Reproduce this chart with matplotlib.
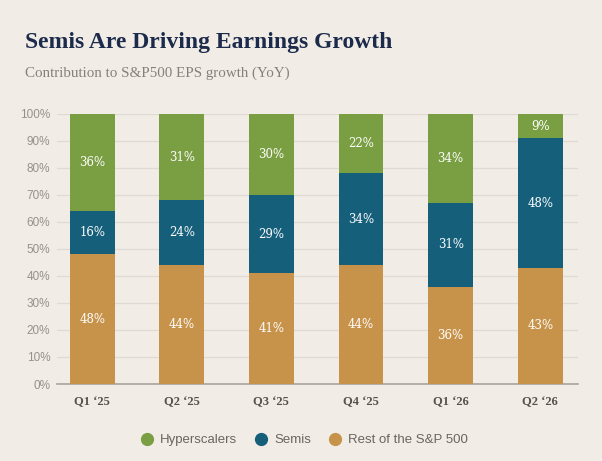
import matplotlib.pyplot as plt
import numpy as np
from matplotlib.lines import Line2D

# Contribution to S&P500 EPS growth (YoY), in percent
quarters = ['Q1 \u201825', 'Q2 \u201825', 'Q3 \u201825', 'Q4 \u201825', 'Q1 \u201826', 'Q2 \u201826']
rest_of_sp = [48, 44, 41, 44, 36, 43]
semis = [16, 24, 29, 34, 31, 48]
hyperscalers = [36, 31, 30, 22, 34, 9]

bg = '#F1EDE6'
c_green = '#7A9E42'
c_blue = '#165F7B'
c_orange = '#C7924A'

fig = plt.figure(figsize=(6.02, 4.61), dpi=100, facecolor=bg)
ax = fig.add_axes([0.095, 0.167, 0.865, 0.586], facecolor=bg)

x = np.arange(len(quarters))
w = 0.5
rest = np.array(rest_of_sp)
sem = np.array(semis)
# hyperscaler bar fills the rest of the column up to 100%
hyp_h = 100 - rest - sem

ax.bar(x, rest, w, color=c_orange, zorder=3)
ax.bar(x, sem, w, bottom=rest, color=c_blue, zorder=3)
ax.bar(x, hyp_h, w, bottom=rest + sem, color=c_green, zorder=3)

lab_kw = dict(ha='center', va='center', color='white', fontsize=8.5,
              family='DejaVu Serif', zorder=4)
for i in range(len(x)):
    ax.text(x[i], rest[i] / 2, f'{rest_of_sp[i]}%', **lab_kw)
    ax.text(x[i], rest[i] + sem[i] / 2, f'{semis[i]}%', **lab_kw)
    ax.text(x[i], rest[i] + sem[i] + hyp_h[i] / 2, f'{hyperscalers[i]}%', **lab_kw)

ax.set_xlim(-0.39, 5.42)
ax.set_ylim(0, 100)
ax.set_yticks(range(0, 101, 10))
ax.set_yticklabels([f'{v}%' for v in range(0, 101, 10)], color='#96928B',
                   fontsize=8.5, family='Liberation Sans')
ax.set_xticks(x)
ax.set_xticklabels(quarters, color='#55524D', fontsize=9, fontweight='bold',
                   family='Liberation Serif')
ax.tick_params(axis='both', length=0)
ax.tick_params(axis='y', pad=5)
ax.tick_params(axis='x', pad=9)
ax.grid(axis='y', color='#E0DBD2', linewidth=0.9, zorder=0)
ax.set_axisbelow(True)
for s in ['top', 'right', 'left']:
    ax.spines[s].set_visible(False)
ax.spines['bottom'].set_color('#A9A49C')
ax.spines['bottom'].set_linewidth(1.2)

fig.text(0.041, 0.907, 'Semis Are Driving Earnings Growth', fontsize=17,
         fontweight='bold', color='#1C2B4B', family='Liberation Serif', va='center')
fig.text(0.041, 0.842, 'Contribution to S&P500 EPS growth (YoY)', fontsize=10.8,
         color='#85817A', family='Liberation Serif', va='center')

handles = [Line2D([], [], marker='o', linestyle='', markersize=8.5, color=c)
           for c in [c_green, c_blue, c_orange]]
fig.legend(handles, ['Hyperscalers', 'Semis', 'Rest of the S&P 500'],
           loc='center', bbox_to_anchor=(0.5, 0.045), ncol=3, frameon=False,
           handletextpad=0.0, columnspacing=0.8,
           prop={'family': 'Liberation Sans', 'size': 9.5},
           labelcolor='#6A665F')

fig.savefig('out.png', dpi=100, facecolor=bg)
